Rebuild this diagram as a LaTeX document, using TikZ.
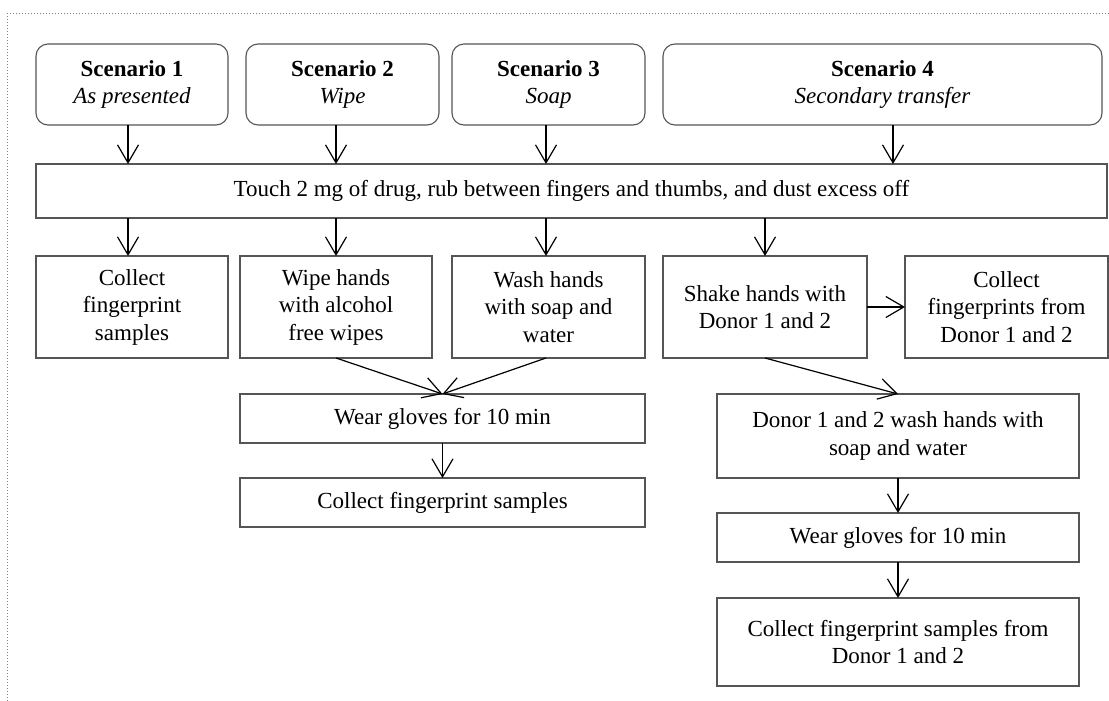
\documentclass[tikz,border=0pt]{standalone}
\usepackage{fontspec}
\setmainfont{Liberation Serif}
\usepackage{tikz}
\usetikzlibrary{shapes, arrows.meta, positioning, calc}
\definecolor{boxgray}{RGB}{85, 85, 85}
\tikzset{
  scenbox/.style={draw=boxgray, line width=1.1pt, rounded corners=12pt, align=center, inner sep=0pt, outer sep=0pt, font=\fontsize{23}{27.5}\selectfont},
  stepbox/.style={draw=boxgray, line width=1.1pt, align=center, inner sep=0pt, outer sep=0pt, font=\fontsize{23}{27.5}\selectfont},
  arr/.style={draw=black, line width=1.2pt, -{Straight Barb[length=18pt, width=21pt, line width=1.2pt]}}
}

\begin{document}
\begin{tikzpicture}[x=1pt, y=-1pt]
  \useasboundingbox (0,0) rectangle (1109,701);
  \draw[gray, dotted, line width=1pt] (1130,14) -- (7,14) -- (7,720);

  % scenarios
  \node[scenbox, minimum width=192pt, minimum height=81pt] (s1) at (132,84.5) {\textbf{Scenario 1}\\\textit{As presented}};
  \node[scenbox, minimum width=193pt, minimum height=81pt] (s2) at (342.5,84.5) {\textbf{Scenario 2}\\\textit{Wipe}};
  \node[scenbox, minimum width=193pt, minimum height=81pt] (s3) at (548.5,84.5) {\textbf{Scenario 3}\\\textit{Soap}};
  \node[scenbox, minimum width=439pt, minimum height=81pt] (s4) at (882.5,84.5) {\textbf{Scenario 4}\\\textit{Secondary transfer}};

  \node[stepbox, minimum width=1071pt, minimum height=54pt] (touch) at (571.5,191) {Touch 2 mg of drug, rub between fingers and thumbs, and dust excess off};

  % second row
  \node[stepbox, minimum width=192pt, minimum height=102pt] (collect1) at (132,307) {Collect\\fingerprint\\samples};
  \node[stepbox, minimum width=192pt, minimum height=102pt] (wipe) at (336,307) {Wipe hands\\with alcohol\\free wipes};
  \node[stepbox, minimum width=193pt, minimum height=102pt] (wash) at (548.5,307) {Wash hands\\with soap and\\water};
  \node[stepbox, minimum width=204pt, minimum height=102pt] (shake) at (765,307) {Shake hands with\\Donor 1 and 2};
  \node[stepbox, minimum width=203pt, minimum height=102pt] (donorcollect) at (1006.5,307) {Collect\\fingerprints from\\Donor 1 and 2};

  % wipe / soap branch
  \node[stepbox, minimum width=405pt, minimum height=49pt] (gloves1) at (442.5,418.5) {Wear gloves for 10 min};
  \node[stepbox, minimum width=405pt, minimum height=49pt] (collect2) at (442.5,502.5) {Collect fingerprint samples};

  % secondary transfer branch
  \node[stepbox, minimum width=362pt, minimum height=84pt] (donorwash) at (898,436) {Donor 1 and 2 wash hands with\\soap and water};
  \node[stepbox, minimum width=362pt, minimum height=49pt] (gloves2) at (898,537.5) {Wear gloves for 10 min};
  \node[stepbox, minimum width=362pt, minimum height=88pt] (collect3) at (898,642) {Collect fingerprint samples from\\Donor 1 and 2};

  % arrows
  \draw[arr] ([xshift=-4pt]s1.south) -- ([xshift=-4pt]s1.south |- touch.north);
  \draw[arr] ([xshift=-6.5pt]s2.south) -- ([xshift=-6.5pt]s2.south |- touch.north);
  \draw[arr] ([xshift=-2.5pt]s3.south) -- ([xshift=-2.5pt]s3.south |- touch.north);
  \draw[arr] ([xshift=10.5pt]s4.south) -- ([xshift=10.5pt]s4.south |- touch.north);

  \draw[arr] (touch.south -| 128,0) -- ([xshift=-4pt]collect1.north);
  \draw[arr] (touch.south -| wipe.north) -- (wipe.north);
  \draw[arr] (touch.south -| 546,0) -- ([xshift=-2.5pt]wash.north);
  \draw[arr] (touch.south -| shake.north) -- (shake.north);

  \draw[arr] (shake.east) -- (donorcollect.west);
  \draw[arr] (wipe.south) -- (gloves1.north);
  \draw[arr] ([xshift=-2.5pt]wash.south) -- (gloves1.north);
  \draw[arr] (gloves1.south) -- (collect2.north);

  \draw[arr] (shake.south) -- (donorwash.north);
  \draw[arr] (donorwash.south) -- (gloves2.north);
  \draw[arr] (gloves2.south) -- (collect3.north);
\end{tikzpicture}
\end{document}
